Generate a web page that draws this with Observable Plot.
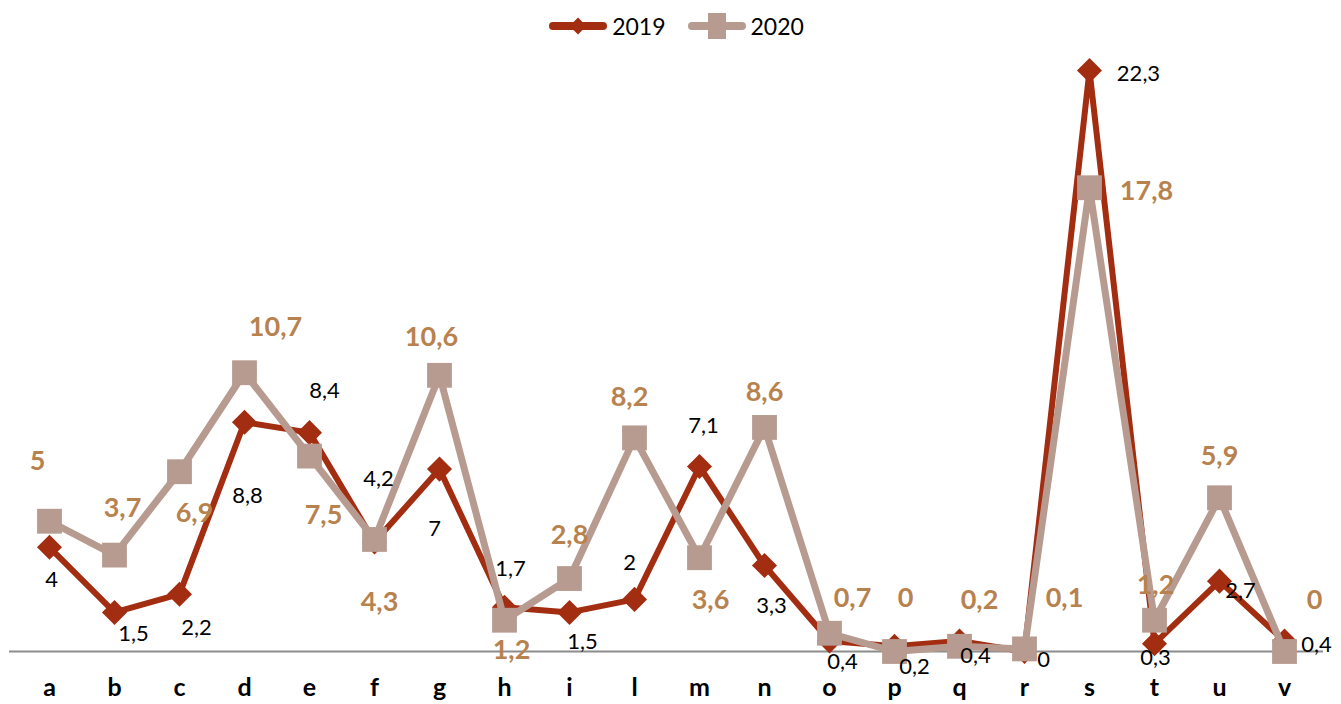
<!DOCTYPE html>
<html>
<head>
<meta charset="utf-8">
<script src="https://cdn.jsdelivr.net/npm/d3@7"></script>
<script src="https://cdn.jsdelivr.net/npm/@observablehq/plot@0.6"></script>
<style>
  body { margin: 0; background: #fff; font-family: Lato, "Open Sans", sans-serif; }
  #legend { height: 40px; display: flex; justify-content: center; align-items: flex-end; gap: 22px; font-size: 23px; color: #000; padding-left: 12px; }
  #legend .item { display: flex; align-items: center; gap: 5px; }
  #legend svg { display: block; }
</style>
</head>
<body>
<div id="legend"></div>
<div id="chart"></div>
<script>
const categories = ["a","b","c","d","e","f","g","h","i","l","m","n","o","p","q","r","s","t","u","v"];
const values2019 = [4, 1.5, 2.2, 8.8, 8.4, 4.2, 7, 1.7, 1.5, 2, 7.1, 3.3, 0.4, 0.2, 0.4, 0, 22.3, 0.3, 2.7, 0.4];
const values2020 = [5, 3.7, 6.9, 10.7, 7.5, 4.3, 10.6, 1.2, 2.8, 8.2, 3.6, 8.6, 0.7, 0, 0.2, 0.1, 17.8, 1.2, 5.9, 0];
const seriesNames = ["2019", "2020"];

// label placement offsets (layout only)
const off2019 = [[2,33],[19,22],[17,34],[3,74],[15,-42],[4,-63],[-5,60],[6,-38],[13,30],[-5,-36],[4,-41],[7,40],[13,21],[20,21],[16,15],[19,8],[49,3],[1,14],[21,10],[32,4]];
const off2020 = [[-12,-60],[8,-47],[15,42],[31,-45],[14,59],[5,63],[-8,-38],[7,30],[0,-43],[-5,-40],[11,43],[0,-35],[23,-35],[11,-53],[20,-46],[40,-51],[57,4],[1,-35],[0,-41],[30,-51]];

const fmt = v => String(v).replace(".", ",");
const C19 = "#A32D10", C20 = "#B89B90", L20 = "#B8824E";

const d19 = categories.map((c,i) => ({cat: c, v: values2019[i], dx: off2019[i][0], dy: off2019[i][1]}));
const d20 = categories.map((c,i) => ({cat: c, v: values2020[i], dx: off2020[i][0], dy: off2020[i][1]}));

// legend
const leg = document.getElementById("legend");
[[seriesNames[0], C19, "diamond"], [seriesNames[1], C20, "square"]].forEach(([name, col, sym]) => {
  const item = document.createElement("div");
  item.className = "item";
  const shape = sym === "diamond"
    ? `<rect x="23" y="7" width="12" height="12" fill="${col}" transform="rotate(45 29 13)"/>`
    : `<rect x="20" y="0" width="18" height="26" fill="${col}"/>`;
  item.innerHTML = `<svg width="58" height="26"><line x1="4" y1="13" x2="54" y2="13" stroke="${col}" stroke-width="8" stroke-linecap="round"/>${shape}</svg><span>${name}</span>`;
  leg.appendChild(item);
});

const plot = Plot.plot({
  width: 1341,
  height: 664,
  marginTop: 30,
  marginBottom: 53,
  marginLeft: 9,
  marginRight: 18,
  style: { fontFamily: "Lato, 'Open Sans', sans-serif", background: "#fff" },
  x: { type: "point", domain: categories, padding: 0.5, label: null },
  y: { domain: [0, 22.3], axis: null },
  marks: [
    Plot.ruleY([0], { stroke: "#8C8C8C", strokeWidth: 2 }),
    Plot.axisX({ tickSize: 0, tickPadding: 27, fontSize: 25, fontWeight: "bold", fill: "#000", label: null }),
    Plot.line(d19, { x: "cat", y: "v", stroke: C19, strokeWidth: 6 }),
    Plot.dot(d19, { x: "cat", y: "v", symbol: "square", r: 10, fill: C19, rotate: 45 }),
    Plot.line(d20, { x: "cat", y: "v", stroke: C20, strokeWidth: 7 }),
    Plot.dot(d20, { x: "cat", y: "v", symbol: "square", r: 14, fill: C20 }),
    ...d19.map(d => Plot.text([d], { x: "cat", y: "v", text: dd => fmt(dd.v), dx: d.dx, dy: d.dy, fontSize: 22, fill: "#000" })),
    ...d20.map(d => Plot.text([d], { x: "cat", y: "v", text: dd => fmt(dd.v), dx: d.dx, dy: d.dy, fontSize: 27, fontWeight: "bold", fill: L20 }))
  ]
});
document.getElementById("chart").appendChild(plot);
</script>
</body>
</html>
